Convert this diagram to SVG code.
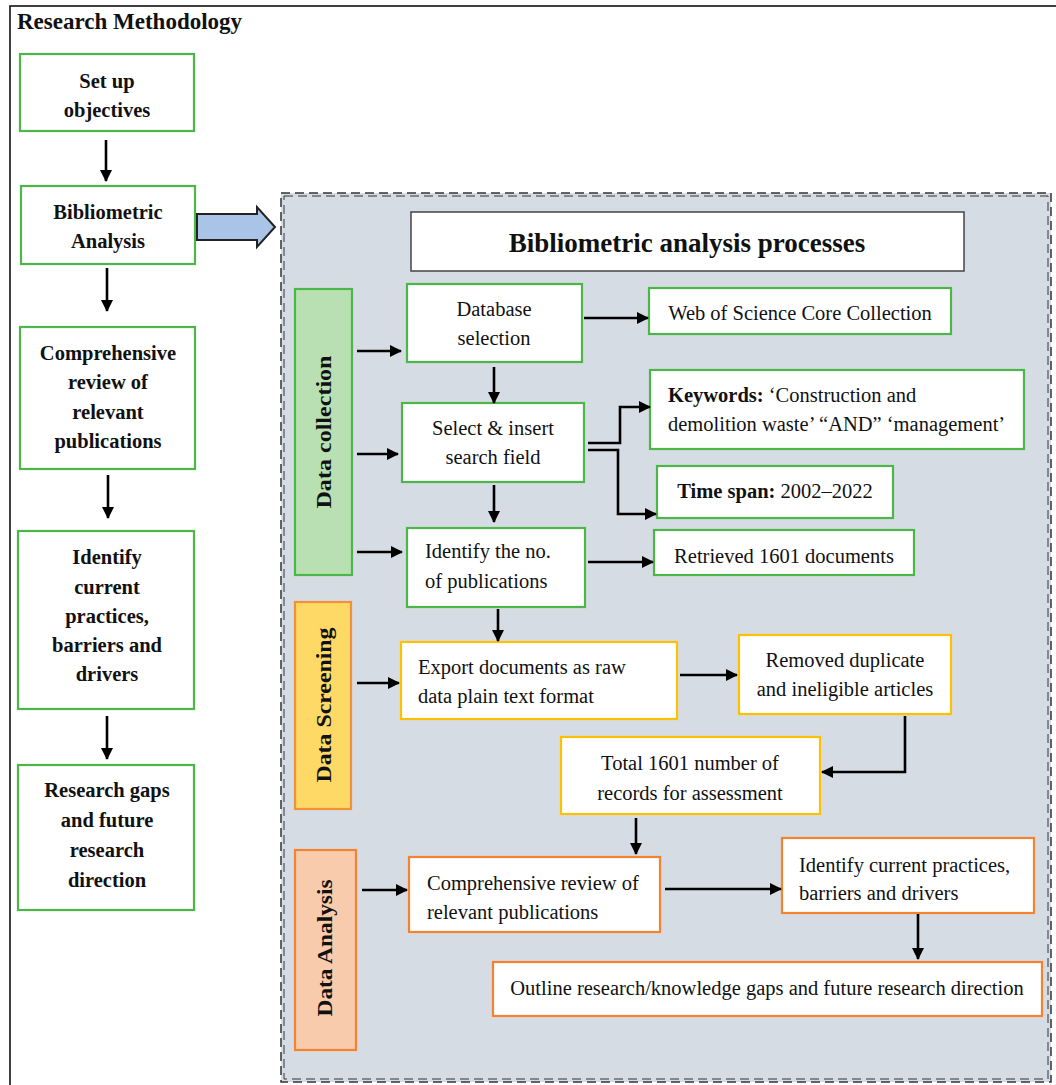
<svg xmlns="http://www.w3.org/2000/svg" width="1056" height="1085" viewBox="0 0 1056 1085">
<defs>
<marker id="ah" markerWidth="12" markerHeight="12" refX="11" refY="6" orient="auto" markerUnits="userSpaceOnUse">
<path d="M0,0 L12,6 L0,12 Z" fill="#000"/>
</marker>
<style>
text{font-family:"Liberation Serif","Times New Roman",serif;fill:#111}
.lb{font-size:20.5px;font-weight:bold;text-anchor:middle}
.rl{font-size:20px;font-weight:bold;text-anchor:middle}
.t{font-size:20.5px}
.c{text-anchor:middle}
.g{fill:#fff;stroke:#4cb648;stroke-width:2.2}
.y{fill:#fff;stroke:#ffc000;stroke-width:2.2}
.o{fill:#fff;stroke:#f5822f;stroke-width:2.2}
.ar{stroke:#000;stroke-width:2.6;fill:none;marker-end:url(#ah)}
</style>
</defs>
<rect width="1056" height="1085" fill="#fff"/>
<rect x="10" y="6" width="1052" height="1090" fill="none" stroke="#111" stroke-width="1.6"/>
<text x="17" y="29" style="font-size:23px;font-weight:bold">Research Methodology</text>

<g id="bg-panel">
<rect x="281" y="193" width="770" height="889" fill="#d6dce4" stroke="#333" stroke-width="1.5" stroke-dasharray="9 5"/>
<rect x="284" y="196" width="764" height="883" fill="none" stroke="#333" stroke-width="1" stroke-dasharray="9 5"/>
</g>

<g id="n-setup"><rect class="g" x="20" y="54" width="174" height="77"/>
<text class="lb" x="107" y="88">Set up</text><text class="lb" x="107" y="117">objectives</text></g>
<g id="n-biblio"><rect class="g" x="21" y="186" width="174" height="78"/>
<text class="lb" x="108" y="219">Bibliometric</text><text class="lb" x="108" y="248">Analysis</text></g>
<g id="n-comp"><rect class="g" x="20" y="327" width="175" height="142"/>
<text class="lb" x="108" y="360">Comprehensive</text><text class="lb" x="108" y="389">review of</text><text class="lb" x="108" y="419">relevant</text><text class="lb" x="108" y="448">publications</text></g>
<g id="n-ident"><rect class="g" x="18" y="531" width="176" height="178"/>
<text class="lb" x="107" y="564">Identify</text><text class="lb" x="107" y="594">current</text><text class="lb" x="107" y="623">practices,</text><text class="lb" x="107" y="652">barriers and</text><text class="lb" x="107" y="681">drivers</text></g>
<g id="n-gaps"><rect class="g" x="18" y="765" width="176" height="145"/>
<text class="lb" x="107" y="797">Research gaps</text><text class="lb" x="107" y="827">and future</text><text class="lb" x="107" y="857">research</text><text class="lb" x="107" y="887">direction</text></g>

<g id="n-title"><rect x="411" y="212" width="553" height="59" fill="#fff" stroke="#444" stroke-width="1.5"/>
<text x="687" y="252" style="font-size:27px;font-weight:bold;text-anchor:middle">Bibliometric analysis processes</text></g>

<g id="n-dc"><rect x="295" y="289" width="57" height="286" fill="#b8e0b2" stroke="#4cb648" stroke-width="2.2"/>
<text transform="translate(331,432) rotate(-90)" class="rl" textLength="153" lengthAdjust="spacingAndGlyphs">Data collection</text></g>
<g id="n-ds"><rect x="295" y="602" width="56" height="207" fill="#ffd966" stroke="#f5903a" stroke-width="2.2"/>
<text transform="translate(331,705) rotate(-90)" class="rl" textLength="155" lengthAdjust="spacingAndGlyphs">Data Screening</text></g>
<g id="n-da"><rect x="295" y="850" width="61" height="200" fill="#f9cbad" stroke="#f5822f" stroke-width="2.2"/>
<text transform="translate(332,948) rotate(-90)" class="rl" textLength="137" lengthAdjust="spacingAndGlyphs">Data Analysis</text></g>

<g id="n-db"><rect class="g" x="407" y="284" width="175" height="78"/>
<text class="t c" x="494" y="316">Database</text><text class="t c" x="494" y="345">selection</text></g>
<g id="n-wos"><rect class="g" x="649" y="288" width="302" height="46"/>
<text class="t c" x="800" y="320">Web of Science Core Collection</text></g>
<g id="n-sel"><rect class="g" x="402" y="403" width="182" height="79"/>
<text class="t c" x="493" y="435">Select &amp; insert</text><text class="t c" x="493" y="464">search field</text></g>
<g id="n-kw"><rect class="g" x="650" y="370" width="374" height="79"/>
<text class="t" x="668" y="402"><tspan font-weight="bold">Keywords:</tspan> ‘Construction and</text>
<text class="t" x="668" y="431">demolition waste’ “AND” ‘management’</text></g>
<g id="n-ts"><rect class="g" x="657" y="466" width="236" height="52"/>
<text class="t c" x="775" y="498"><tspan font-weight="bold">Time span:</tspan> 2002–2022</text></g>
<g id="n-idno"><rect class="g" x="407" y="528" width="178" height="79"/>
<text class="t" x="425" y="558">Identify the no.</text><text class="t" x="425" y="588">of publications</text></g>
<g id="n-ret"><rect class="g" x="654" y="530" width="260" height="45"/>
<text class="t c" x="784" y="563">Retrieved 1601 documents</text></g>

<g id="n-exp"><rect class="y" x="401" y="642" width="276" height="77"/>
<text class="t" x="418" y="674">Export documents as raw</text><text class="t" x="418" y="703">data plain text format</text></g>
<g id="n-rem"><rect class="y" x="739" y="635" width="212" height="79"/>
<text class="t c" x="845" y="667">Removed duplicate</text><text class="t c" x="845" y="696">and ineligible articles</text></g>
<g id="n-tot"><rect class="y" x="561" y="737" width="259" height="77"/>
<text class="t c" x="690" y="770">Total 1601 number of</text><text class="t c" x="690" y="800">records for assessment</text></g>

<g id="n-crev"><rect class="o" x="409" y="857" width="251" height="75"/>
<text class="t" x="427" y="890">Comprehensive review of</text><text class="t" x="427" y="919">relevant publications</text></g>
<g id="n-icp"><rect class="o" x="782" y="838" width="252" height="75"/>
<text class="t" x="799" y="872">Identify current practices,</text><text class="t" x="799" y="900">barriers and drivers</text></g>
<g id="n-out"><rect class="o" x="493" y="962" width="549" height="54"/>
<text class="t c" x="767" y="995">Outline research/knowledge gaps and future research direction</text></g>

<g id="connectors">
<line class="ar" x1="106" y1="140" x2="106" y2="181"/>
<line class="ar" x1="107" y1="268" x2="107" y2="311"/>
<line class="ar" x1="108" y1="475" x2="108" y2="518"/>
<line class="ar" x1="107" y1="716" x2="107" y2="759"/>
<path d="M197,214 H257 V207 L275,227 L257,247 V240 H197 Z" fill="#a9c4e6" stroke="#222" stroke-width="2"/>
<line class="ar" x1="357" y1="351" x2="401" y2="351"/>
<line class="ar" x1="357" y1="454" x2="398" y2="454"/>
<line class="ar" x1="357" y1="552" x2="402" y2="552"/>
<line class="ar" x1="584" y1="318" x2="648" y2="318"/>
<line class="ar" x1="494" y1="367" x2="494" y2="403"/>
<path class="ar" d="M588,443 H620 V407 H650"/>
<path class="ar" d="M588,450 H618 V514 H656"/>
<line class="ar" x1="494" y1="485" x2="494" y2="522"/>
<line class="ar" x1="588" y1="562" x2="653" y2="562"/>
<line class="ar" x1="498" y1="609" x2="498" y2="641"/>
<line class="ar" x1="357" y1="683" x2="399" y2="683"/>
<line class="ar" x1="680" y1="675" x2="737" y2="675"/>
<path class="ar" d="M905,716 V772 H822"/>
<line class="ar" x1="636" y1="818" x2="636" y2="854"/>
<line class="ar" x1="362" y1="890" x2="407" y2="890"/>
<line class="ar" x1="665" y1="889" x2="781" y2="889"/>
<line class="ar" x1="918" y1="914" x2="918" y2="959"/>
</g>
</svg>
